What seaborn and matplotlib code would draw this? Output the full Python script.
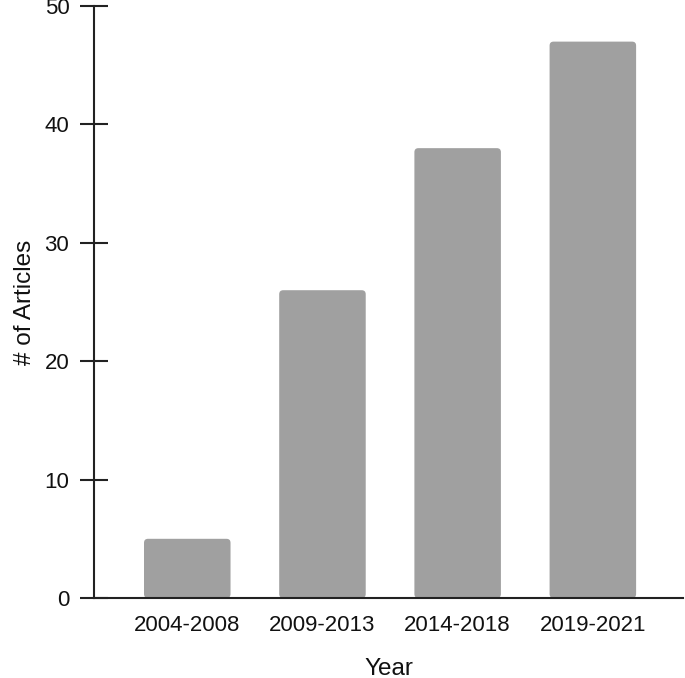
import matplotlib
matplotlib.use("Agg")
import numpy as np
import pandas as pd
from matplotlib import pyplot as plt
from matplotlib.patches import FancyBboxPatch
import seaborn as sns

# data
years = ['2004-2008', '2009-2013', '2014-2018', '2019-2021']
articles = [5, 26, 38, 47]

df = pd.DataFrame({'year': years, 'n': articles})

sns.set_style("white")
plt.rcParams['font.family'] = ['Liberation Sans', 'DejaVu Sans']
plt.rcParams['text.color'] = '#111111'
plt.rcParams['axes.labelcolor'] = '#111111'
plt.rcParams['xtick.labelcolor'] = '#111111'
plt.rcParams['ytick.labelcolor'] = '#111111'

fig = plt.figure(figsize=(6.85, 6.78), dpi=100)
ax = fig.add_axes([0.1372, 0.118, 0.8605, 0.873])

sns.barplot(x='year', y='n', data=df, color='#a0a0a0', saturation=1,
            width=0.64, ax=ax)

ax.set_xlim(-0.69, 3.67)
ax.set_ylim(0, 50)
ax.set_yticks([0, 10, 20, 30, 40, 50])

# rounded bar tops
fig.canvas.draw()
bbox = ax.get_window_extent()
px_x = (ax.get_xlim()[1] - ax.get_xlim()[0]) / bbox.width
px_y = (ax.get_ylim()[1] - ax.get_ylim()[0]) / bbox.height
r = 4 * px_x
for p in list(ax.patches):
    x, y = p.get_x(), p.get_y()
    w, h = p.get_width(), p.get_height()
    p.remove()
    ax.add_patch(FancyBboxPatch((x, y), w, h,
                                boxstyle="round,pad=0,rounding_size=%f" % r,
                                mutation_aspect=px_y / px_x,
                                facecolor='#a0a0a0', edgecolor='none'))

for s in ['top', 'right']:
    ax.spines[s].set_visible(False)
for s in ['left', 'bottom']:
    ax.spines[s].set_color('#222222')
    ax.spines[s].set_linewidth(1.5)

ax.tick_params(axis='y', direction='inout', length=19.5, width=1.5,
               color='#222222', pad=8, labelsize=16, left=True)
ax.tick_params(axis='x', length=0, pad=12, labelsize=16)

ax.set_xlabel('Year', fontsize=17.5, labelpad=16)
ax.set_ylabel('# of Articles', fontsize=17.5, labelpad=6)

fig.savefig('out.png', dpi=100)
